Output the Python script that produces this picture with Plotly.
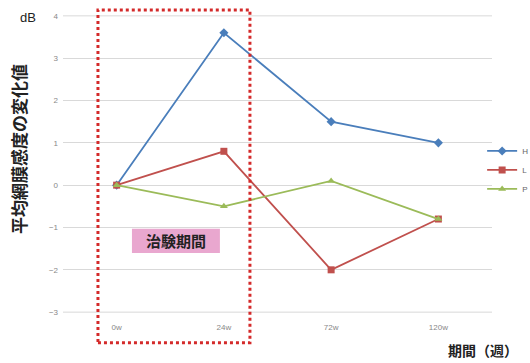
import plotly.graph_objects as go

# Study time points (weeks)
periods = ["0w", "24w", "72w", "120w"]

# Mean change in retinal sensitivity (dB) per group
h_values = [0.0, 3.6, 1.5, 1.0]
l_values = [0.0, 0.8, -2.0, -0.8]
p_values = [0.0, -0.5, 0.1, -0.8]

y_ticks = [-3, -2, -1, 0, 1, 2, 3, 4]

CJK = "Noto Sans CJK JP"
GRID = "#d9d9d9"

fig = go.Figure()

series = [
    ("H", h_values, "#4a7ebb", "diamond"),
    ("L", l_values, "#c0504d", "square"),
    ("P", p_values, "#9bbb59", "triangle-up"),
]
for name, vals, color, symbol in series:
    fig.add_trace(go.Scatter(
        x=periods, y=vals, name=name, mode="lines+markers",
        line=dict(color=color, width=1.8),
        marker=dict(symbol=symbol, size=7, color=color),
    ))

# Gridlines at the top and bottom edges of the value range
for yv in (y_ticks[0], y_ticks[-1]):
    fig.add_shape(type="line", xref="paper", yref="y", x0=0, x1=1, y0=yv, y1=yv,
                  line=dict(color=GRID, width=1), layer="below")

# Red dotted frame around the trial period
fig.add_shape(type="rect", xref="x", yref="paper",
              x0=-0.174, x1=1.243, y0=-0.10, y1=1.017,
              line=dict(color="#d42a2a", width=3, dash="dot"),
              fillcolor="rgba(0,0,0,0)", layer="above")

# Pink label box
fig.add_shape(type="rect", xref="x", yref="y",
              x0=0.143, x1=0.963, y0=-1.60, y1=-1.03,
              line=dict(width=0), fillcolor="#e9a7cf", layer="above")
fig.add_annotation(x=0.553, y=-1.315, xref="x", yref="y",
                   text="<b>治験期間</b>", showarrow=False,
                   font=dict(family=CJK, size=15, color="#222222"))

# Axis titles
fig.add_annotation(x=-0.082, y=0.99, xref="paper", yref="paper",
                   xanchor="center", yanchor="middle", text="dB", showarrow=False,
                   font=dict(family="Liberation Sans", size=13, color="#222222"))
fig.add_annotation(x=-0.105, y=0.55, xref="paper", yref="paper",
                   xanchor="center", yanchor="middle",
                   text="<b>平均網膜感度の変化値</b>", textangle=-90, showarrow=False,
                   font=dict(family=CJK, size=17, color="#222222"))
fig.add_annotation(x=1.065, y=-0.125, xref="paper", yref="paper",
                   xanchor="right", yanchor="middle",
                   text="<b>期間（週）</b>", showarrow=False,
                   font=dict(family=CJK, size=14, color="#222222"))

fig.update_layout(
    width=530, height=363,
    margin=dict(l=63, r=38, t=15, b=50, autoexpand=False),
    paper_bgcolor="white", plot_bgcolor="white",
    showlegend=True,
    legend=dict(x=0.977, y=0.48, xanchor="left", yanchor="middle",
                font=dict(family="Liberation Sans", size=8, color="#666666"),
                itemwidth=30, tracegroupgap=0, bgcolor="rgba(0,0,0,0)"),
    font=dict(family="Liberation Sans"),
)
fig.update_xaxes(type="category", range=[-0.5, 3.5], showgrid=False,
                 showline=False, ticks="", ticklabelstandoff=8,
                 tickfont=dict(size=8, color="#888888"))
fig.update_yaxes(range=[-3.02, 4.02], tickvals=y_ticks, showgrid=True,
                 gridcolor=GRID, gridwidth=1, zeroline=False,
                 ticks="", ticklabelstandoff=4,
                 tickfont=dict(size=8, color="#888888"))

fig.write_html("out.html")
